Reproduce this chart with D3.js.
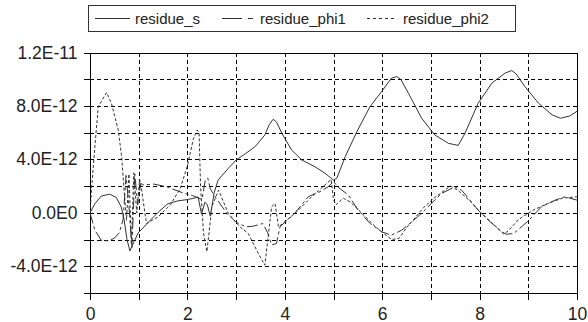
<!DOCTYPE html>
<html>
<head>
<meta charset="utf-8">
<script src="https://cdn.jsdelivr.net/npm/d3@7/dist/d3.min.js"></script>
<style>
  html, body { margin: 0; padding: 0; background: #fff; }
  svg { display: block; }
  text { font-family: "Liberation Sans", Arial, sans-serif; fill: #222; }
</style>
</head>
<body>
<svg id="chart" width="588" height="322"></svg>
<script>
// ---- data (values in units of 1E-12) ----
const UNIT = 1e-12;
const seriesNames = ["residue_s", "residue_phi1", "residue_phi2"];

const sX = [0, 0.1, 0.23, 0.40, 0.54, 0.64, 0.70, 0.76, 0.82, 0.90, 0.99, 1.16, 1.40, 1.60, 1.81, 2.02, 2.22, 2.29, 2.36, 2.41, 2.47, 2.55, 2.63, 2.84, 3.0, 3.2, 3.39, 3.59, 3.68, 3.76, 3.83, 3.94, 4.14, 4.35, 4.62, 4.83, 5.0, 5.07, 5.24, 5.48, 5.75, 5.99, 6.19, 6.3, 6.38, 6.54, 6.81, 7.08, 7.36, 7.56, 7.70, 7.97, 8.25, 8.52, 8.66, 8.75, 8.93, 9.21, 9.49, 9.66, 9.85, 10.0];
const sY = [0, 0.68, 1.25, 1.4, 1.15, 0.45, -0.5, -2.0, -2.85, -2.2, -1.5, -0.85, 0.05, 0.68, 0.9, 1.0, 1.18, -0.1, 0.8, 0.6, -0.25, 1.5, 2.45, 3.33, 3.95, 4.45, 4.95, 5.83, 6.6, 7.0, 6.8, 5.95, 4.7, 3.95, 3.45, 2.95, 2.45, 2.6, 4.2, 6.08, 7.95, 9.08, 10.08, 10.2, 10.0, 8.95, 7.08, 5.83, 5.2, 5.05, 5.95, 8.2, 9.7, 10.45, 10.65, 10.4, 9.45, 8.2, 7.33, 7.08, 7.25, 7.6];

const p1X = [0, 0.1, 0.23, 0.37, 0.5, 0.6, 0.68, 0.74, 0.8, 0.86, 0.92, 0.98, 1.04, 1.1, 1.31, 1.58, 1.9, 2.1, 2.3, 2.37, 2.42, 2.47, 2.57, 2.8, 3.0, 3.2, 3.35, 3.55, 3.65, 3.73, 3.83, 3.9, 4.2, 4.48, 4.72, 4.89, 5.0, 5.1, 5.3, 5.51, 5.75, 5.99, 6.19, 6.4, 6.6, 6.88, 7.01, 7.22, 7.49, 7.63, 7.97, 8.18, 8.45, 8.55, 8.7, 9.0, 9.27, 9.55, 9.75, 10.0];
const p1Y = [0, -1.3, -2.05, -2.1, -1.9, -1.5, -0.5, 2.8, 0.5, -2.6, 2.9, 0.6, 2.2, 2.1, 2.15, 1.95, 1.5, 1.3, 1.0, 2.5, 2.6, 1.8, 1.2, 0.0, -0.7, -1.05, -1.0, -0.8, -1.5, -2.4, -2.3, -1.05, -0.05, 1.2, 1.58, 1.95, 2.35, 1.9, 1.35, 0.2, -0.8, -1.42, -1.67, -1.3, -0.7, 0.2, 0.7, 1.45, 1.95, 1.7, 0.2, -0.55, -1.42, -1.6, -1.55, -0.6, 0.45, 0.95, 1.2, 0.95];

const p2X = [0, 0.03, 0.1, 0.17, 0.34, 0.44, 0.58, 0.65, 0.70, 0.75, 0.8, 0.85, 0.9, 0.96, 1.02, 1.06, 1.16, 1.4, 1.65, 1.85, 2.0, 2.12, 2.2, 2.24, 2.27, 2.33, 2.4, 2.46, 2.5, 2.64, 2.84, 3.08, 3.25, 3.45, 3.59, 3.73, 3.8, 3.87, 4.04, 4.28, 4.55, 4.8, 4.95, 5.0, 5.05, 5.2, 5.35, 5.6, 5.85, 6.05, 6.2, 6.35, 6.5, 6.6, 6.85, 7.1, 7.4, 7.55, 7.8, 8.0, 8.3, 8.5, 8.6, 8.8, 9.1, 9.4, 9.7, 10.0];
const p2Y = [0, 1.7, 4.95, 7.95, 9.0, 8.2, 6.2, 4.2, 1.7, -0.55, 2.9, -2.4, 3.0, 0.0, 2.5, 1.7, -0.8, -0.3, 0.6, 1.8, 3.5, 5.5, 6.2, 6.0, 2.0, -1.5, -2.9, -1.0, 0.45, 1.7, -0.05, -1.05, -1.55, -3.0, -3.92, 0.45, 0.7, -1.05, -0.55, 0.2, 1.2, 2.0, 2.5, 1.0, 0.6, 1.1, 0.8, -0.1, -1.0, -1.6, -2.0, -1.9, -1.1, -0.7, 0.4, 1.2, 2.0, 1.7, 0.9, 0.1, -0.9, -1.6, -1.3, -0.5, 0.2, 0.7, 1.1, 1.2];

const xTicks = [0, 1, 2, 3, 4, 5, 6, 7, 8, 9, 10];
const xTickLabels = [0, 2, 4, 6, 8, 10];
const yTicks = [-6e-12, -4e-12, -2e-12, 0, 2e-12, 4e-12, 6e-12, 8e-12, 10e-12, 12e-12];
const yTickLabels = ["-4.0E-12", "0.0E0", "4.0E-12", "8.0E-12", "1.2E-11"];
const yLabelValues = [-4e-12, 0, 4e-12, 8e-12, 12e-12];

// ---- layout ----
const svg = d3.select("#chart");
const L = 90, R = 577, T = 52.5, B = 293;
const x = d3.scaleLinear().domain([0, 10]).range([L, R]);
const y = d3.scaleLinear().domain([-6e-12, 12e-12]).range([B, T]);

// grid
const grid = svg.append("g").attr("stroke", "#000").attr("stroke-width", 1).attr("stroke-dasharray", "4,3").attr("shape-rendering", "crispEdges");
grid.selectAll("line.v").data(xTicks.slice(1, -1)).join("line")
  .attr("x1", d => Math.round(x(d)) + 0.5).attr("x2", d => Math.round(x(d)) + 0.5)
  .attr("y1", T).attr("y2", B);
grid.selectAll("line.h").data(yTicks.slice(1, -1)).join("line")
  .attr("y1", d => Math.round(y(d)) + 0.5).attr("y2", d => Math.round(y(d)) + 0.5)
  .attr("x1", L).attr("x2", R);

// axes
const xAxis = d3.axisBottom(x).tickValues(xTicks).tickSize(6).tickSizeOuter(0)
  .tickFormat(d => xTickLabels.includes(d) ? String(d) : "");
const gx = svg.append("g").attr("transform", `translate(0,${Math.round(B) + 0.5})`).call(xAxis);
gx.select(".domain").remove();
gx.selectAll("line").attr("stroke", "#000").attr("shape-rendering", "crispEdges");
gx.selectAll("text").attr("font-size", 17.5).attr("y", 26).attr("dy", 0).attr("fill", "#222")
  .attr("font-family", "'Liberation Sans', Arial, sans-serif");

const yAxis = d3.axisLeft(y).tickValues(yTicks).tickSize(7).tickSizeOuter(0)
  .tickFormat(d => { const i = yLabelValues.findIndex(v => Math.abs(v - d) < 1e-15); return i >= 0 ? yTickLabels[i] : ""; });
const gy = svg.append("g").attr("transform", `translate(${L + 0.5},0)`).call(yAxis);
gy.select(".domain").remove();
gy.selectAll("line").attr("stroke", "#000").attr("shape-rendering", "crispEdges");
gy.selectAll("text").attr("font-size", 17.5).attr("x", -13).attr("fill", "#222")
  .attr("font-family", "'Liberation Sans', Arial, sans-serif");

// frame
svg.append("rect").attr("x", L + 0.5).attr("y", Math.round(T) + 0.5)
  .attr("width", Math.round(R) - L).attr("height", Math.round(B) - Math.round(T))
  .attr("fill", "none").attr("stroke", "#000").attr("shape-rendering", "crispEdges");

// clip
svg.append("clipPath").attr("id", "clip").append("rect")
  .attr("x", L).attr("y", T).attr("width", R - L).attr("height", B - T);

const line = d3.line().x(d => x(d[0])).y(d => y(d[1] * UNIT));
const styles = [
  { xs: sX, ys: sY, dash: null },
  { xs: p1X, ys: p1Y, dash: "11,3,3,3" },
  { xs: p2X, ys: p2Y, dash: "3,2" }
];
const plot = svg.append("g").attr("clip-path", "url(#clip)");
styles.forEach(s => {
  plot.append("path")
    .datum(s.xs.map((xv, i) => [xv, s.ys[i]]))
    .attr("d", line)
    .attr("fill", "none")
    .attr("stroke", "#333")
    .attr("stroke-width", 1)
    .attr("stroke-dasharray", s.dash);
});

// legend
const lg = svg.append("g");
lg.append("rect").attr("x", 88.5).attr("y", 5.5).attr("width", 427).attr("height", 26)
  .attr("fill", "#fff").attr("stroke", "#333").attr("shape-rendering", "crispEdges");
const legendItems = [
  { name: seriesNames[0], x1: 95, x2: 130, tx: 135, dash: null },
  { name: seriesNames[1], x1: 222, x2: 254, tx: 260, dash: "20,6,5,40" },
  { name: seriesNames[2], x1: 367, x2: 396, tx: 403, dash: "3,3" }
];
legendItems.forEach(it => {
  lg.append("line").attr("x1", it.x1).attr("x2", it.x2).attr("y1", 18.5).attr("y2", 18.5)
    .attr("stroke", "#333").attr("stroke-dasharray", it.dash);
  lg.append("text").attr("x", it.tx).attr("y", 24).attr("font-size", 15).text(it.name);
});
</script>
</body>
</html>
